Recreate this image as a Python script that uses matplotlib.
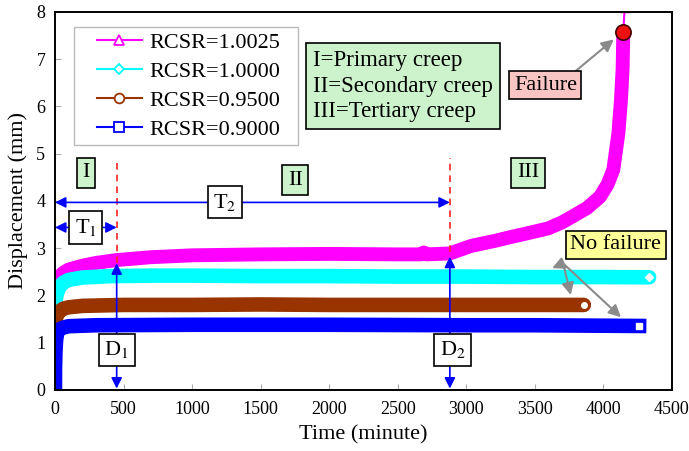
import matplotlib
matplotlib.use("Agg")
import matplotlib.pyplot as plt
from matplotlib.lines import Line2D
from matplotlib.patches import Rectangle

plt.rcParams['font.family'] = ['Liberation Serif', 'DejaVu Serif']
plt.rcParams['mathtext.fontset'] = 'stix'

# creep curves, time in minutes, displacement in mm
t_10025 = [0, 10, 30, 60, 100, 200, 300, 450, 700, 1000, 1500, 2000, 2500, 2670,
           2690, 2710, 2880, 3036, 3200, 3328, 3450, 3597, 3700, 3767, 3880, 3975,
           4030, 4072, 4109, 4128, 4140, 4145, 4155]
d_10025 = [2.15, 2.28, 2.40, 2.48, 2.55, 2.63, 2.69, 2.75, 2.81, 2.85, 2.87, 2.88,
           2.87, 2.87, 2.91, 2.87, 2.89, 3.05, 3.15, 3.24, 3.32, 3.42, 3.55, 3.66,
           3.85, 4.09, 4.35, 4.66, 5.43, 6.14, 6.80, 7.58, 8.10]

t_10000 = [0, 10, 30, 60, 100, 200, 400, 700, 1000, 1500, 2000, 2500, 3000, 3500,
           4000, 4333]
d_10000 = [1.75, 2.00, 2.18, 2.27, 2.33, 2.38, 2.41, 2.42, 2.42, 2.41, 2.41, 2.40,
           2.40, 2.39, 2.39, 2.385]

t_09500 = [0, 10, 30, 60, 100, 200, 500, 1000, 1500, 2000, 2500, 3000, 3500, 3857]
d_09500 = [1.42, 1.55, 1.66, 1.72, 1.75, 1.78, 1.80, 1.80, 1.81, 1.80, 1.80, 1.80,
           1.80, 1.80]

t_09000 = [0, 0, 3, 8, 15, 30, 60, 100, 300, 1000, 2000, 3000, 3500, 4000, 4260]
d_09000 = [0.0, 0.40, 0.80, 1.05, 1.20, 1.28, 1.32, 1.35, 1.37, 1.38, 1.38, 1.37,
           1.37, 1.36, 1.355]

series_labels = ['RCSR=1.0025', 'RCSR=1.0000', 'RCSR=0.9500', 'RCSR=0.9000']

# failure point of the RCSR=1.0025 specimen
failure_t, failure_d = 4145, 7.58

# creep stage boundaries (minute) and the displacements marked at them
t1_end = 450
t2_end = 2880
d1_top = 2.68
d2_top = 2.82

x_ticks = [0, 500, 1000, 1500, 2000, 2500, 3000, 3500, 4000, 4500]
y_ticks = [0, 1, 2, 3, 4, 5, 6, 7, 8]

colors = ['#ff00ff', '#00ffff', '#993300', '#0000ff']
markers = ['^', 'D', 'o', 's']
caps = ['round', 'round', 'round', 'projecting']

fig = plt.figure(figsize=(6.89, 4.51), dpi=100)
ax = fig.add_axes([0.0798, 0.1353, 0.8955, 0.8381])

data = [(t_10025, d_10025), (t_10000, d_10000), (t_09500, d_09500), (t_09000, d_09000)]
for (t, d), c, m, cap in zip(data, colors, markers, caps):
    if m == '^':
        # thick record up to failure, then the last reading as a thin trace
        ax.plot(t[:-1], d[:-1], color=c, lw=10, solid_capstyle='butt',
                solid_joinstyle='round', zorder=2)
        ax.plot(t[-2:], d[-2:], color=c, lw=1.5, marker='^', ms=7, mfc='white',
                mec=c, markevery=[1], zorder=2)
    else:
        ax.plot(t, d, color=c, lw=10.5, solid_capstyle=cap, solid_joinstyle='round', zorder=2)
        ax.plot(t[-1], d[-1], marker=m, ms=4, mfc='white', mec='white', zorder=3)

ax.plot(failure_t, failure_d, 'o', ms=11, mfc='#ee1111', mec='#440000', mew=1.2, zorder=6)

# stage boundaries
for tb, top in [(t1_end, d1_top), (t2_end, d2_top + 0.1)]:
    ax.plot([tb, tb], [top, 4.9], color='#ff2222', ls=(0, (4, 3)), lw=1.2, zorder=4)

blue_arrow = dict(arrowstyle='<|-|>', color='#0000ff', lw=1.2, mutation_scale=16,
                  shrinkA=0, shrinkB=0)
ax.annotate('', xy=(t1_end, 3.44), xytext=(0, 3.44), arrowprops=blue_arrow, zorder=5)
ax.annotate('', xy=(t2_end, 3.97), xytext=(0, 3.97), arrowprops=blue_arrow, zorder=5)
ax.annotate('', xy=(t1_end, d1_top), xytext=(t1_end, 0.03), arrowprops=blue_arrow, zorder=5)
ax.annotate('', xy=(t2_end, d2_top), xytext=(t2_end, 0.03), arrowprops=blue_arrow, zorder=5)

white_box = dict(boxstyle='square,pad=0.25', fc='white', ec='black', lw=1.2)
green_box = dict(boxstyle='square,pad=0.25', fc='#cdf3cd', ec='black', lw=1.2)
fs = 16

ax.text(225, 3.44, 'T$_1$', fontsize=fs, ha='center', va='center', bbox=white_box, zorder=7)
ax.text(1240, 3.97, 'T$_2$', fontsize=fs, ha='center', va='center', bbox=white_box, zorder=7)
ax.text(t1_end, 0.85, 'D$_1$', fontsize=fs, ha='center', va='center', bbox=white_box, zorder=7)
ax.text(2900, 0.85, 'D$_2$', fontsize=fs, ha='center', va='center', bbox=white_box, zorder=7)

ax.text(225, 4.6, 'I', fontsize=fs, ha='center', va='center', bbox=green_box, zorder=7)
ax.text(1752, 4.44, 'II', fontsize=fs, ha='center', va='center', bbox=green_box, zorder=7)
ax.text(3450, 4.6, 'III', fontsize=fs, ha='center', va='center', bbox=green_box, zorder=7)

ax.text(1880, 6.43, 'I=Primary creep\nII=Secondary creep\nIII=Tertiary creep',
        fontsize=16.5, ha='left', va='center', linespacing=1.28,
        bbox=dict(boxstyle='square,pad=0.3', fc='#cdf3cd', ec='black', lw=1.2), zorder=7)

gray_arrow = dict(arrowstyle='-|>', color='#8a8a8a', lw=1.5, mutation_scale=18,
                  shrinkA=0, shrinkB=0)
ax.annotate('Failure', xy=(4075, 7.42), xytext=(3577, 6.45), fontsize=fs,
            ha='center', va='center',
            bbox=dict(boxstyle='square,pad=0.2', fc='#f8c4c4', ec='black', lw=1.2),
            arrowprops=dict(gray_arrow, relpos=(0.89, 1.0)), zorder=7)

ax.text(4090, 3.07, 'No failure', fontsize=fs, ha='center', va='center',
        bbox=dict(boxstyle='square,pad=0.2', fc='#ffff99', ec='black', lw=1.2), zorder=7)
for target in [(3626, 2.58), (3762, 2.01), (4128, 1.54)]:
    ax.annotate('', xy=target, xytext=(3706, 2.68), arrowprops=gray_arrow, zorder=7)

# legend frame drawn separately so the side margins can be wider than the top/bottom
ax.add_patch(Rectangle((0.031, 0.648), 0.363, 0.312, transform=ax.transAxes,
                       fc='white', ec='#bbbbbb', lw=1.0, zorder=8))
handles = [Line2D([], [], color=c, lw=1.5, marker=m, ms=7 if m != 'D' else 5,
                  mfc='white', mec=c, mew=1.3)
           for c, m in zip(colors, markers)]
leg = ax.legend(handles, series_labels, loc='upper left', bbox_to_anchor=(0.061, 0.957),
                borderaxespad=0, fontsize=fs, frameon=False, handlelength=2.0,
                labelspacing=0.38, handletextpad=0.35, borderpad=0.2)
leg.set_zorder(9)

ax.set_xlim(0, 4500)
ax.set_ylim(0, 8)
ax.set_xticks(x_ticks)
ax.set_yticks(y_ticks)
ax.tick_params(axis='both', direction='in', length=4, color='#aaaaaa', labelsize=13)
ax.tick_params(axis='x', pad=8)
ax.tick_params(axis='y', pad=7)
for sp in ax.spines.values():
    sp.set_linewidth(1.4)

ax.set_xlabel('Time (minute)', fontsize=fs, labelpad=5)
ax.set_ylabel('Displacement (mm)', fontsize=fs, labelpad=6)

fig.savefig('out.png', dpi=100)
